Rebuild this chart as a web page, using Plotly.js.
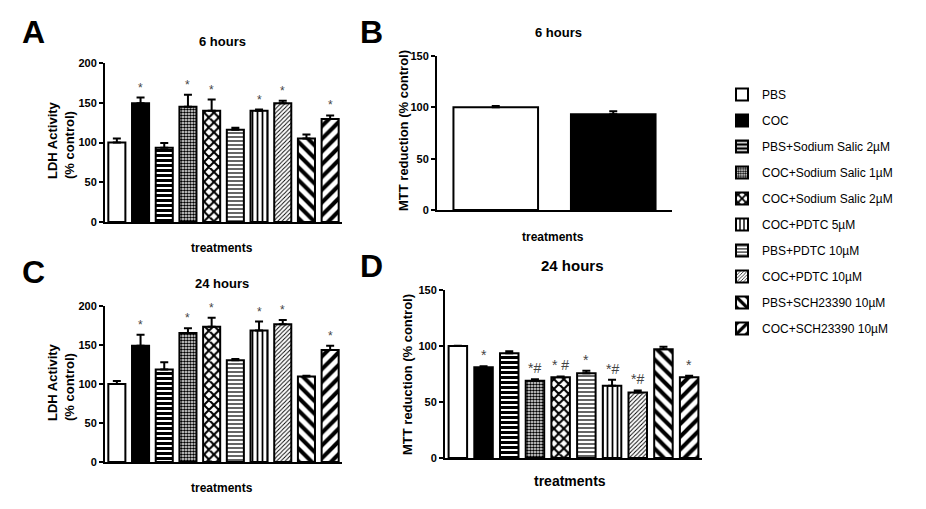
<!DOCTYPE html>
<html><head><meta charset="utf-8">
<script src="https://cdn.plot.ly/plotly-3.0.1.min.js"></script>
<style>html,body{margin:0;padding:0;background:#fff}</style>
</head><body><div id="chart" style="width:926px;height:509px"></div>
<script>
// ---- data ----
const categories = ["PBS", "COC", "PBS+Sodium Salic 2\u00b5M", "COC+Sodium Salic 1\u00b5M",
  "COC+Sodium Salic 2\u00b5M", "PBS+PDTC 10\u00b5M", "COC+PDTC 5\u00b5M", "COC+PDTC 10\u00b5M",
  "PBS+SCH23390 10\u00b5M", "COC+SCH23390 10\u00b5M"];
const legendOrder = [1, 2, 3, 4, 5, 7, 6, 8, 9, 10];

const ldh6Mean  = [100, 149.5, 93.5, 145, 140, 116, 140, 149.5, 105, 129.5];
const ldh6Sem   = [5, 7, 6, 15, 14, 2.5, 1.5, 3, 5, 4.5];
const ldh6Marks = ["", "*", "", "*", "*", "", "*", "*", "", "*"];

const mtt6Cats = ["PBS", "COC"];
const mtt6Mean = [100, 93.3];
const mtt6Sem  = [1.4, 2.9];

const ldh24Mean  = [100, 149, 118.5, 165.5, 173.5, 130.5, 168.5, 176.5, 109.5, 143.5];
const ldh24Sem   = [4, 14, 9.5, 6, 11.5, 1.5, 11.5, 5.5, 1, 5.5];
const ldh24Marks = ["", "*", "", "*", "*", "", "*", "*", "", "*"];

const mtt24Mean  = [100, 81, 93.5, 69, 72, 75.7, 64.4, 58.5, 97, 72];
const mtt24Sem   = [0.3, 1, 1.8, 1.4, 0.8, 2.3, 5.4, 1.8, 2.4, 1.5];
const mtt24Marks = ["", "*", "", "*#", "* #", "*", "*#", "*#", "", "*"];

// ---- styles ----
const patterns = [
  {color: "white"},
  {color: "black"},
  {color: "white", shape: "-", size: 5, solidity: 0.6},
  {color: "white", shape: ".", size: 3, solidity: 0.6},
  {color: "white", shape: "x", size: 7, solidity: 0.5},
  {color: "white", shape: "-", size: 4, solidity: 0.3},
  {color: "white", shape: "|", size: 5, solidity: 0.35},
  {color: "white", shape: "/", size: 3, solidity: 0.3},
  {color: "white", shape: "\\", size: 9, solidity: 0.45},
  {color: "white", shape: "/", size: 9, solidity: 0.45}
];

function barTrace(cat, idx, mean, sem, ax, showLegend) {
  const p = patterns[idx];
  const marker = {color: p.color, line: {color: "black", width: 2}};
  if (p.shape) {
    marker.pattern = {shape: p.shape, fgcolor: "black", bgcolor: "white",
      size: p.size, solidity: p.solidity, fillmode: "replace"};
  }
  return {
    type: "bar", x: [cat], y: [mean], name: cat,
    xaxis: "x" + ax, yaxis: "y" + ax,
    marker: marker, showlegend: showLegend,
    legendgroup: "g" + idx, legendrank: legendOrder[idx],
    error_y: {type: "data", symmetric: false, array: [sem], arrayminus: [0],
      color: "black", thickness: 2, width: 4},
    hoverinfo: "x+y"
  };
}

const traces = [];
categories.forEach((c, i) => traces.push(barTrace(c, i, ldh6Mean[i], ldh6Sem[i], "", true)));
mtt6Cats.forEach((c, i) => traces.push(barTrace(c, i, mtt6Mean[i], mtt6Sem[i], "2", false)));
categories.forEach((c, i) => traces.push(barTrace(c, i, ldh24Mean[i], ldh24Sem[i], "3", false)));
categories.forEach((c, i) => traces.push(barTrace(c, i, mtt24Mean[i], mtt24Sem[i], "4", false)));

const W = 926, H = 509;
const px = v => v / W, py = v => 1 - v / H;

const F = "Liberation Sans, Arial, sans-serif";
const tickFont = {family: F, size: 11, color: "black", weight: "bold"};
function xax(x0, x1, cats) {
  return {domain: [px(x0), px(x1)], type: "category", categoryorder: "array", categoryarray: cats,
    showticklabels: false, ticks: "", showgrid: false, zeroline: false,
    showline: true, linecolor: "black", linewidth: 2, fixedrange: true};
}
function yax(y0, y1, max, anchor) {
  return {domain: [py(y0), py(y1)], range: [0, max], dtick: 50, ticks: "outside", ticklen: 4,
    tickwidth: 2, tickcolor: "black", showgrid: false, zeroline: false, showline: true,
    linecolor: "black", linewidth: 2, tickfont: tickFont, anchor: anchor, fixedrange: true};
}

function txt(x, y, text, size, opts) {
  return Object.assign({xref: "paper", yref: "paper", x: px(x), y: py(y), text: text,
    showarrow: false, xanchor: "center", yanchor: "middle",
    font: {family: F, size: size, color: "black", weight: "bold"}}, opts || {});
}
const annotations = [
  txt(33, 32, "A", 32), txt(371, 32, "B", 32), txt(33, 272, "C", 32), txt(371, 266, "D", 32),
  txt(222, 41, "6 hours", 13), txt(558, 33, "6 hours", 13),
  txt(222, 283, "24 hours", 13), txt(572, 265, "24 hours", 15),
  txt(222, 248, "treatments", 12), txt(553, 237, "treatments", 12),
  txt(222, 488, "treatments", 12), txt(570, 481, "treatments", 14),
  txt(61, 140, "LDH Activity<br>(% control)", 13, {textangle: -90, align: "left"}),
  txt(61, 382, "LDH Activity<br>(% control)", 13, {textangle: -90, align: "left"}),
  txt(404, 131, "MTT reduction (% control)", 13, {textangle: -90}),
  txt(407, 375, "MTT reduction (% control)", 13, {textangle: -90})
];
function marks(list, means, sems, ax, size) {
  list.forEach((m, i) => {
    if (!m) return;
    annotations.push({xref: "x" + ax, yref: "y" + ax, x: categories[i], y: means[i] + sems[i],
      text: m, showarrow: false, yanchor: "bottom", yshift: 1,
      font: {family: F, size: size, color: "#444"}});
  });
}
marks(ldh6Marks, ldh6Mean, ldh6Sem, "", 12);
marks(ldh24Marks, ldh24Mean, ldh24Sem, "3", 12);
marks(mtt24Marks, mtt24Mean, mtt24Sem, "4", 14);

const layout = {
  width: W, height: H, margin: {l: 0, r: 0, t: 0, b: 0},
  paper_bgcolor: "white", plot_bgcolor: "white",
  barmode: "overlay", bargap: 0.28,
  font: {family: F, color: "black"},
  xaxis: xax(105, 342, categories), yaxis: yax(222, 63, 200, "x"),
  xaxis2: xax(437, 672, mtt6Cats), yaxis2: yax(210, 56, 150, "x2"),
  xaxis3: xax(105, 342, categories), yaxis3: yax(462, 306, 200, "x3"),
  xaxis4: xax(445, 702, categories), yaxis4: yax(458, 290, 150, "x4"),
  showlegend: true,
  legend: {x: px(722), y: py(80), xanchor: "left", yanchor: "top", tracegroupgap: 7,
    font: {family: F, size: 12, color: "black"}, bgcolor: "rgba(0,0,0,0)", traceorder: "grouped"},
  annotations: annotations
};
layout.xaxis.anchor = "y"; layout.xaxis2.anchor = "y2"; layout.xaxis3.anchor = "y3"; layout.xaxis4.anchor = "y4";

Plotly.newPlot("chart", traces, layout, {displayModeBar: false, staticPlot: true});
</script></body></html>
